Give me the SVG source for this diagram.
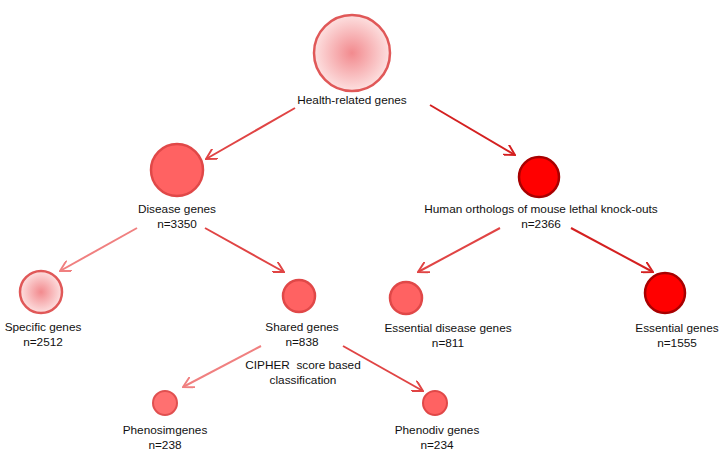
<svg xmlns="http://www.w3.org/2000/svg" width="720" height="461" viewBox="0 0 720 461">
<style>
text{font-family:"Liberation Sans",Arial,sans-serif;font-size:11.8px;fill:#111;text-anchor:middle}
.a{fill:none;stroke-width:2}
.mid{stroke:#e04444}.lt{stroke:#f08080}.dk{stroke:#d42020}
.med{fill:#ff6262;stroke:#e04848;stroke-width:2.5}
.red{fill:#ff0000;stroke:#a80000;stroke-width:2.5}
.pale{fill:url(#g);stroke:#e05858;stroke-width:2.5}
.sm{fill:#ff7070;stroke:#e05050;stroke-width:2}
</style>
<defs>
<radialGradient id="g"><stop offset="0" stop-color="#f28a8e"/><stop offset="1" stop-color="#fde0e0"/></radialGradient>
<marker id="mm" viewBox="0 0 10 10" refX="9" refY="5" markerWidth="12" markerHeight="12" orient="auto" markerUnits="userSpaceOnUse"><path d="M0,0 L9,5 L0,10" fill="none" stroke="#e04444" stroke-width="1.6"/></marker>
<marker id="ml" viewBox="0 0 10 10" refX="9" refY="5" markerWidth="12" markerHeight="12" orient="auto" markerUnits="userSpaceOnUse"><path d="M0,0 L9,5 L0,10" fill="none" stroke="#f08080" stroke-width="1.6"/></marker>
<marker id="md" viewBox="0 0 10 10" refX="9" refY="5" markerWidth="12" markerHeight="12" orient="auto" markerUnits="userSpaceOnUse"><path d="M0,0 L9,5 L0,10" fill="none" stroke="#d42020" stroke-width="1.6"/></marker>
</defs>
<g id="connectors">
<line class="a mid" x1="295" y1="108" x2="206" y2="159" marker-end="url(#mm)"/>
<line class="a dk" x1="430" y1="105" x2="515" y2="155" marker-end="url(#md)"/>
<line class="a lt" x1="137" y1="228" x2="60" y2="271" marker-end="url(#ml)"/>
<line class="a mid" x1="205" y1="228" x2="284" y2="272" marker-end="url(#mm)"/>
<line class="a mid" x1="500" y1="228" x2="418" y2="272" marker-end="url(#mm)"/>
<line class="a dk" x1="571" y1="228" x2="653" y2="272" marker-end="url(#md)"/>
<line class="a lt" x1="261" y1="346" x2="183" y2="387" marker-end="url(#ml)"/>
<line class="a mid" x1="343" y1="346" x2="423" y2="391" marker-end="url(#mm)"/>
</g>
<g id="health"><circle class="pale" cx="352" cy="53" r="38"/><text x="352" y="104">Health-related genes</text></g>
<g id="disease"><circle class="med" cx="177" cy="170" r="26"/><text x="177" y="213">Disease genes</text><text x="177" y="228">n=3350</text></g>
<g id="orthologs"><circle class="red" cx="539" cy="177" r="20"/><text x="541" y="213">Human orthologs of mouse lethal knock-outs</text><text x="541" y="228">n=2366</text></g>
<g id="specific"><circle class="pale" cx="41" cy="292" r="21"/><text x="43" y="331">Specific genes</text><text x="43" y="346">n=2512</text></g>
<g id="shared"><circle class="med" cx="299" cy="296" r="16"/><text x="302" y="331">Shared genes</text><text x="302" y="346">n=838</text></g>
<g id="essdisease"><circle class="med" cx="406" cy="298" r="16"/><text x="448" y="332">Essential disease genes</text><text x="448" y="347">n=811</text></g>
<g id="essential"><circle class="red" cx="665" cy="293" r="20"/><text x="677" y="332">Essential genes</text><text x="677" y="347">n=1555</text></g>
<g id="cipher"><text x="303" y="369" xml:space="preserve">CIPHER  score based</text><text x="303" y="384">classification</text></g>
<g id="phenosim"><circle class="sm" cx="165" cy="403" r="12"/><text x="165" y="434">Phenosimgenes</text><text x="165" y="449">n=238</text></g>
<g id="phenodiv"><circle class="med" cx="435" cy="403" r="12" style="stroke-width:2"/><text x="437" y="434">Phenodiv genes</text><text x="437" y="449">n=234</text></g>
</svg>
